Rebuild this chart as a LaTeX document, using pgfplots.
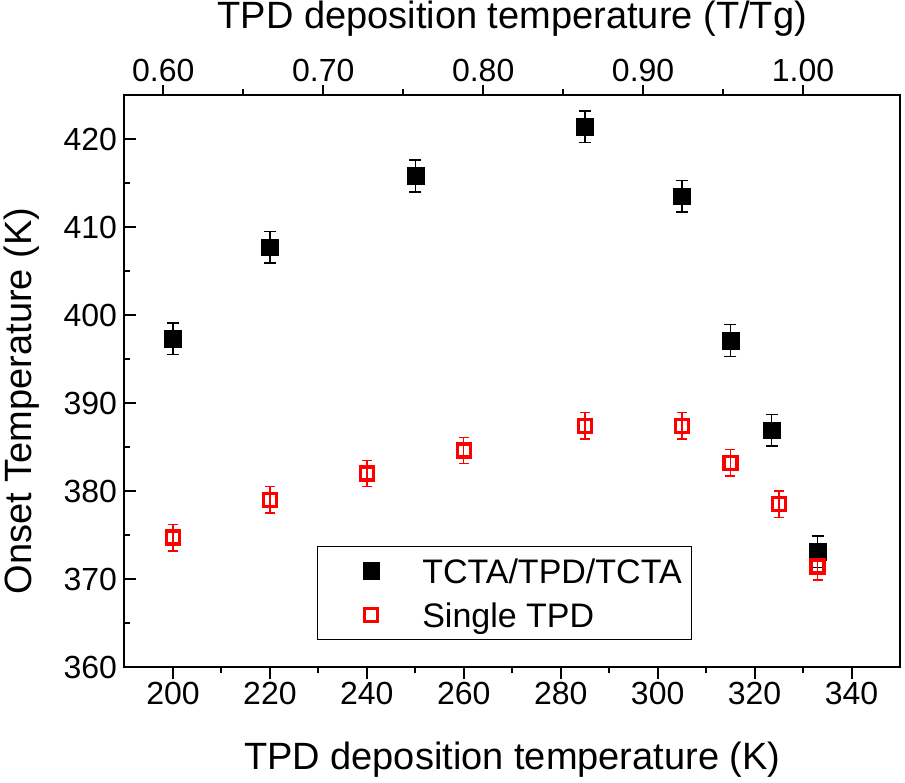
\documentclass[border=0pt]{standalone}
\usepackage{pgfplots}
\pgfplotsset{compat=1.18}
\usepackage{fontspec}
\setmainfont{Liberation Sans}
\pgfplotstableread{
x y e
200 397.3 1.8
220 407.7 1.8
250 415.8 1.8
285 421.4 1.8
305 413.5 1.8
315 397.1 1.8
323.5 386.9 1.8
333 373.1 1.8
}\tabA
\pgfplotstableread{
x y e
200 374.7 1.5
220 379.0 1.5
240 382.0 1.5
260 384.6 1.5
285 387.4 1.5
305 387.4 1.5
315 383.2 1.5
325 378.5 1.5
333 371.4 1.5
}\tabB
\begin{document}
\begin{tikzpicture}
\useasboundingbox (-124.5pt,-115pt) rectangle (780.5pt,667pt);
\begin{axis}[
  at={(0pt,0pt)}, anchor=south west,
  scale only axis, width=775.5pt, height=572pt,
  xmin=190, xmax=350, ymin=360, ymax=425,
  xtick={200,220,...,340}, minor x tick num=1,
  ytick={360,370,...,420}, minor y tick num=1,
  xtick pos=left, ytick pos=left,
  xtick align=outside, ytick align=inside,
  major tick length=12pt, minor tick length=6pt,
  axis line style={line width=2pt},
  every tick/.style={line width=2pt, black},
  /pgf/number format/assume math mode=true,
  ticklabel style={font=\fontsize{32}{38}\selectfont},
  yticklabel style={xshift=-4pt},
  xlabel={TPD deposition temperature (K)},
  ylabel={Onset Temperature (K)},
  label style={font=\fontsize{38}{45}\selectfont},
  x label style={at={(axis description cs:0.5,0)}, anchor=base, yshift=-102pt},
  y label style={at={(axis description cs:0,0.465)}, anchor=base, yshift=93pt},
  legend image code/.code={\path[draw=none,fill=none] (-43.4pt,-12.25pt) rectangle (51pt,12.25pt); \draw[#1] plot coordinates {(0pt,0pt)};},
  legend cell align=left,
  legend style={at={(axis description cs:0.2486,0.0472)}, anchor=south west,
    draw=black, line width=1.2pt, fill=white,
    inner xsep=10pt, inner ysep=12.4pt, row sep=19.5pt,
    font=\fontsize{34}{40}\selectfont,
    nodes={inner sep=0pt, text height=24.5pt, text depth=0pt}},
]
\addplot[only marks, mark=square*, mark size=8.4pt, black,
  mark options={fill=black, draw=black, line width=0.4pt},
  error bars/.cd, y dir=both, y explicit,
  error bar style={line width=1.6pt, black},
  error mark options={rotate=90, mark size=6pt, line width=1.6pt, black}]
  table[x=x, y=y, y error=e] {\tabA};
\addlegendentry{TCTA/TPD/TCTA}
\addplot[only marks, mark=square, mark size=6.5pt, red,
  mark options={fill=white, draw=red, line width=3.4pt},
  error bars/.cd, y dir=both, y explicit,
  error bar style={line width=1.4pt, red},
  error mark options={rotate=90, mark size=5pt, line width=1.4pt, red}]
  table[x=x, y=y, y error=e] {\tabB};
\addlegendentry{Single TPD}
\end{axis}
\begin{axis}[
  at={(0pt,0pt)}, anchor=south west,
  scale only axis, width=775.5pt, height=572pt,
  xmin=0.575757, xmax=1.060606, ymin=0, ymax=1,
  axis x line*=top, axis y line=none,
  xtick={0.6,0.7,0.8,0.9,1.0}, minor x tick num=1,
  xtick align=outside,
  major tick length=10pt, minor tick length=6pt,
  axis line style={line width=2pt},
  every tick/.style={line width=2pt, black},
  /pgf/number format/assume math mode=true,
  xticklabel style={font=\fontsize{32}{38}\selectfont, /pgf/number format/.cd, fixed, fixed zerofill, precision=2},
  xlabel={TPD deposition temperature (T/Tg)},
  x label style={font=\fontsize{38}{45}\selectfont, at={(axis description cs:0.5,1)}, anchor=base, yshift=66pt},
]
\end{axis}
\end{tikzpicture}
\end{document}
